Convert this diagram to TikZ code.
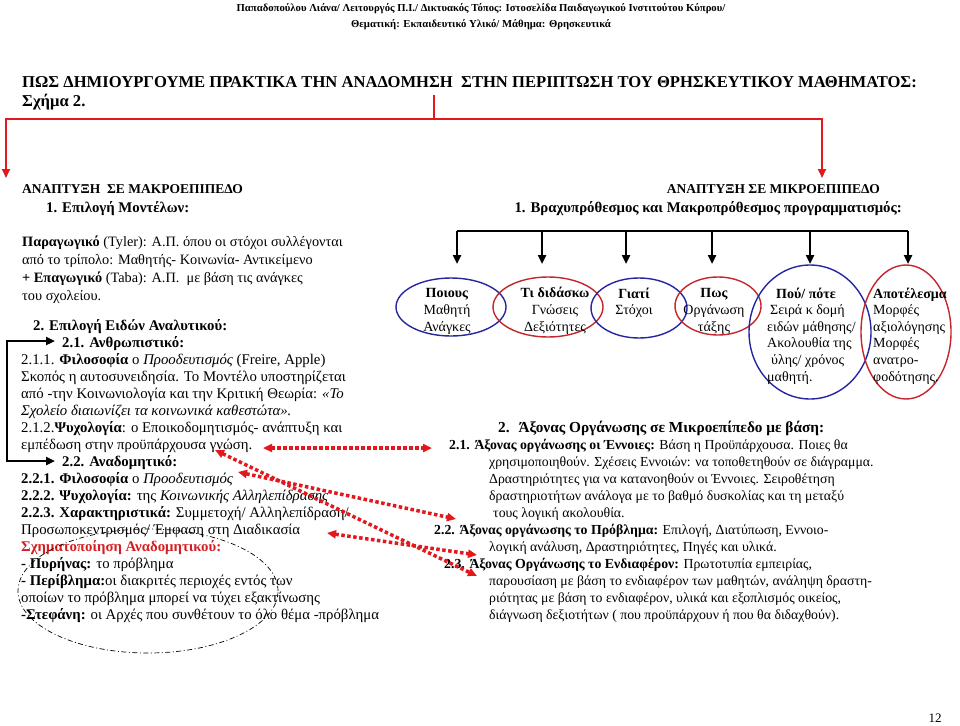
\documentclass[tikz,border=0pt]{standalone}
\usepackage{fontspec}
\setmainfont{Liberation Serif}
\usetikzlibrary{arrows.meta,shapes.geometric}
\definecolor{linkred}{RGB}{226,24,28}
\definecolor{ringblue}{RGB}{38,38,160}
\definecolor{ringred}{RGB}{196,38,44}
\definecolor{headred}{RGB}{214,30,34}

\begin{document}
\begin{tikzpicture}[x=1pt, y=-1pt, >={Triangle[length=9pt,width=8pt]},
	txt/.style={inner sep=0pt, anchor=base west, align=left, font=\fontsize{14.8}{17}\selectfont},
	headtxt/.style={inner sep=0pt, anchor=base west, font=\fontsize{14.8}{17}\selectfont\bfseries},
	ring/.style={ellipse, draw, line width=1.4pt, inner sep=0pt},
	ringtxt/.style={inner sep=0pt, anchor=base, align=center, font=\fontsize{14}{16.6}\selectfont},
	branch/.style={->, line width=2.5pt},
	dotlink/.style={<->, linkred, line width=3.5pt, dash pattern=on 3.5pt off 2.5pt}]
	
	% Page
	\fill[white] (0,0) rectangle (960,725);
	\useasboundingbox (0,0) rectangle (960,725);
	
	% Header and title (base = last line)
	\node[inner sep=0pt, anchor=base, align=center, font=\fontsize{10.7}{17}\selectfont\bfseries] (header) at (481,28)
	{Παπαδοπούλου Λιάνα/ Λειτουργός Π.Ι./ Δικτυακός Τόπος: Ιστοσελίδα Παιδαγωγικού Ινστιτούτου Κύπρου/\\
	Θεματική: Εκπαιδευτικό Υλικό/ Μάθημα: Θρησκευτικά};
	\node[headtxt, font=\fontsize{16.6}{18}\selectfont\bfseries] (title) at (22,87)
	{ΠΩΣ ΔΗΜΙΟΥΡΓΟΥΜΕ ΠΡΑΚΤΙΚΑ ΤΗΝ ΑΝΑΔΟΜΗΣΗ~ ΣΤΗΝ ΠΕΡΙΠΤΩΣΗ ΤΟΥ ΘΡΗΣΚΕΥΤΙΚΟΥ ΜΑΘΗΜΑΤΟΣ:};
	\node[headtxt, font=\fontsize{16.6}{18}\selectfont\bfseries] (figno) at (22,106) {Σχήμα 2.};
	
	% Red split
	\coordinate (stem) at (434,95);
	\coordinate (fork) at (434,119);
	\coordinate (macroTip) at (6,178);
	\coordinate (microTip) at (822,178);
	\draw[linkred, line width=2pt] (stem) -- (fork);
	\draw[linkred, line width=2pt, ->] (fork) -| (macroTip);
	\draw[linkred, line width=2pt, ->] (fork) -| (microTip);
	
	% Level headings
	\node[headtxt, font=\fontsize{13.5}{16}\selectfont\bfseries] (macro) at (22,193) {ΑΝΑΠΤΥΞΗ~ ΣΕ ΜΑΚΡΟΕΠΙΠΕΔΟ};
	\node[headtxt] (models) at (46,212) {1. Επιλογή Μοντέλων:};
	\node[headtxt, anchor=base east, font=\fontsize{13.5}{16}\selectfont\bfseries] (micro) at (880,193) {ΑΝΑΠΤΥΞΗ ΣΕ ΜΙΚΡΟΕΠΙΠΕΔΟ};
	\node[headtxt, anchor=base east] (plan) at (902,212) {1. Βραχυπρόθεσμος και Μακροπρόθεσμος προγραμματισμός:};
	
	% Macro level text
	\node[txt, font=\fontsize{14.3}{18}\selectfont] (modelTxt) at (22,300)
	{\textbf{Παραγωγικό} (Tyler): Α.Π. όπου οι στόχοι συλλέγονται\\
	από το τρίπολο: Μαθητής- Κοινωνία- Αντικείμενο\\
	\textbf{+ Επαγωγικό} (Taba): Α.Π.~ με βάση τις ανάγκες\\
	του σχολείου.};
	\node[txt] (curricTxt) at (21,619)
	{\hspace*{12pt}\textbf{2. Επιλογή Ειδών Αναλυτικού:}\\
	\hspace*{41pt}\textbf{2.1. Ανθρωπιστικό:}\\
	2.1.1. \textbf{Φιλοσοφία} ο \textit{Προοδευτισμός} (Freire, Apple)\\
	Σκοπός η αυτοσυνειδησία. Το Μοντέλο υποστηρίζεται\\
	από -την Κοινωνιολογία και την Κριτική Θεωρία: \textit{«Το}\\
	\textit{Σχολείο διαιωνίζει τα κοινωνικά καθεστώτα».}\\
	2.1.2.\textbf{Ψυχολογία}: ο Εποικοδομητισμός- ανάπτυξη και\\
	εμπέδωση στην προϋπάρχουσα γνώση.\\
	\hspace*{41pt}\textbf{2.2. Αναδομητικό:}\\
	\textbf{2.2.1. Φιλοσοφία} ο \textit{Προοδευτισμός}\\
	\textbf{2.2.2. Ψυχολογία:} της \textit{Κοινωνικής Αλληλεπίδρασης}\\
	\textbf{2.2.3. Χαρακτηριστικά:} Συμμετοχή/ Αλληλεπίδραση/\\
	Προσωποκεντρισμός/ Έμφαση στη Διαδικασία\\
	\textcolor{headred}{\textbf{Σχηματοποίηση Αναδομητικού:}}\\
	\textbf{- Πυρήνας:} το πρόβλημα\\
	\textbf{- Περίβλημα:}οι διακριτές περιοχές εντός των\\
	οποίων το πρόβλημα μπορεί να τύχει εξακτίνωσης\\
	\textbf{-Στεφάνη:} οι Αρχές που συνθέτουν το όλο θέμα -πρόβλημα};
	
	% Elbow to curriculum kinds
	\coordinate (humTip) at (55,341);
	\coordinate (elbowTop) at (7,341);
	\coordinate (elbowBot) at (7,461);
	\coordinate (reconTip) at (55,461);
	\draw[<->, line width=2.5pt] (humTip) -- (elbowTop) -- (elbowBot) -- (reconTip);
	
	% Core ring
	\node[ellipse, draw, dash pattern=on 5pt off 2.5pt on 1pt off 2.5pt, line width=0.7pt,
	minimum width=260pt, minimum height=124pt] (coreRing) at (148,591) {};
	
	% Planning tree
	\coordinate (barL) at (457,231);
	\coordinate (barR) at (908,231);
	\draw[line width=2.5pt] (barL) -- (barR);
	\coordinate (tipA) at (457,264);
	\coordinate (tipB) at (542,264);
	\coordinate (tipC) at (626,264);
	\coordinate (tipD) at (712,264);
	\coordinate (tipE) at (810,264);
	\coordinate (tipF) at (908,264);
	\draw[branch] (barL) -- (tipA);
	\draw[branch] (tipB |- barL) -- (tipB);
	\draw[branch] (tipC |- barL) -- (tipC);
	\draw[branch] (tipD |- barL) -- (tipD);
	\draw[branch] (tipE |- barL) -- (tipE);
	\draw[branch] (barR) -- (tipF);
	
	% Rings
	\node[ring, ringblue, minimum width=110pt, minimum height=58pt] (whoRing) at (451,307) {};
	\node[ring, ringred, minimum width=110pt, minimum height=60pt] (whatRing) at (548,307) {};
	\node[ring, ringblue, minimum width=96pt, minimum height=60pt] (whyRing) at (639,308) {};
	\node[ring, ringred, minimum width=86pt, minimum height=58pt] (howRing) at (718,306) {};
	\node[ring, ringblue, minimum width=122pt, minimum height=134pt] (whenRing) at (810,332) {};
	\node[ring, ringred, minimum width=90pt, minimum height=134pt] (resultRing) at (906,332) {};
	
	\node[ringtxt] (whoTxt) at (447,331) {\textbf{Ποιους}\\Μαθητή\\Ανάγκες};
	\node[ringtxt] (whatTxt) at (555,331) {\textbf{Τι διδάσκω}\\Γνώσεις\\Δεξιότητες};
	\node[ringtxt] (whyTxt) at (634,314.6) {\textbf{Γιατί}\\Στόχοι};
	\node[ringtxt] (howTxt) at (714,331) {\textbf{Πως}\\Οργάνωση\\τάξης};
	\node[ringtxt, anchor=base west, align=left] (whenTxt) at (767,381)
	{\hspace*{9pt}\textbf{Πού/ πότε}\\ \hspace*{3pt}Σειρά κ δομή\\ειδών μάθησης/\\Ακολουθία της\\ \hspace*{4pt}ύλης/ χρόνος\\μαθητή.};
	\node[ringtxt, anchor=base west, align=left] (resultTxt) at (873,381)
	{\textbf{Αποτέλεσμα}\\Μορφές\\αξιολόγησης\\Μορφές\\ανατρο-\\φοδότησης.};
	
	% Micro level text
	\node[txt, font=\fontsize{13.8}{17}\selectfont] (axisTxt) at (434,619)
	{\hspace*{64pt}{\fontsize{15.3}{17}\selectfont\textbf{2.~ Άξονας Οργάνωσης σε Μικροεπίπεδο με βάση:}}\\
	\hspace*{15pt}\textbf{2.1. Άξονας οργάνωσης οι Έννοιες:} Βάση η Προϋπάρχουσα. Ποιες θα\\
	\hspace*{55pt}χρησιμοποιηθούν. Σχέσεις Εννοιών: να τοποθετηθούν σε διάγραμμα.\\
	\hspace*{55pt}Δραστηριότητες για να κατανοηθούν οι Έννοιες. Σειροθέτηση\\
	\hspace*{55pt}δραστηριοτήτων ανάλογα με το βαθμό δυσκολίας και τη μεταξύ\\
	\hspace*{59pt}τους λογική ακολουθία.\\
	\textbf{2.2. Άξονας οργάνωσης το Πρόβλημα:} Επιλογή, Διατύπωση, Εννοιο-\\
	\hspace*{55pt}λογική ανάλυση, Δραστηριότητες, Πηγές και υλικά.\\
	\hspace*{10pt}\textbf{2.3. Άξονας Οργάνωσης το Ενδιαφέρον:} Πρωτοτυπία εμπειρίας,\\
	\hspace*{55pt}παρουσίαση με βάση το ενδιαφέρον των μαθητών, ανάληψη δραστη-\\
	\hspace*{55pt}ριότητας με βάση το ενδιαφέρον, υλικά και εξοπλισμός οικείος,\\
	\hspace*{55pt}διάγνωση δεξιοτήτων ( που προϋπάρχουν ή που θα διδαχθούν).};
	
	% Dotted links
	\coordinate (knowL) at (263,448);
	\coordinate (knowR) at (432,448);
	\coordinate (priorL) at (215,450);
	\coordinate (interestLow) at (477,576);
	\coordinate (progL) at (238,472);
	\coordinate (problemR) at (456,519);
	\coordinate (processL) at (327,533);
	\coordinate (interestUp) at (477,555);
	\draw[dotlink] (knowL) -- (knowR);
	\draw[dotlink] (priorL) -- (interestLow);
	\draw[dotlink] (progL) -- (problemR);
	\draw[dotlink] (processL) -- (interestUp);
	
	% Page number
	\node[inner sep=0pt, font=\fontsize{13}{16}\selectfont] (pageno) at (935,718) {12};
	
\end{tikzpicture}
\end{document}
